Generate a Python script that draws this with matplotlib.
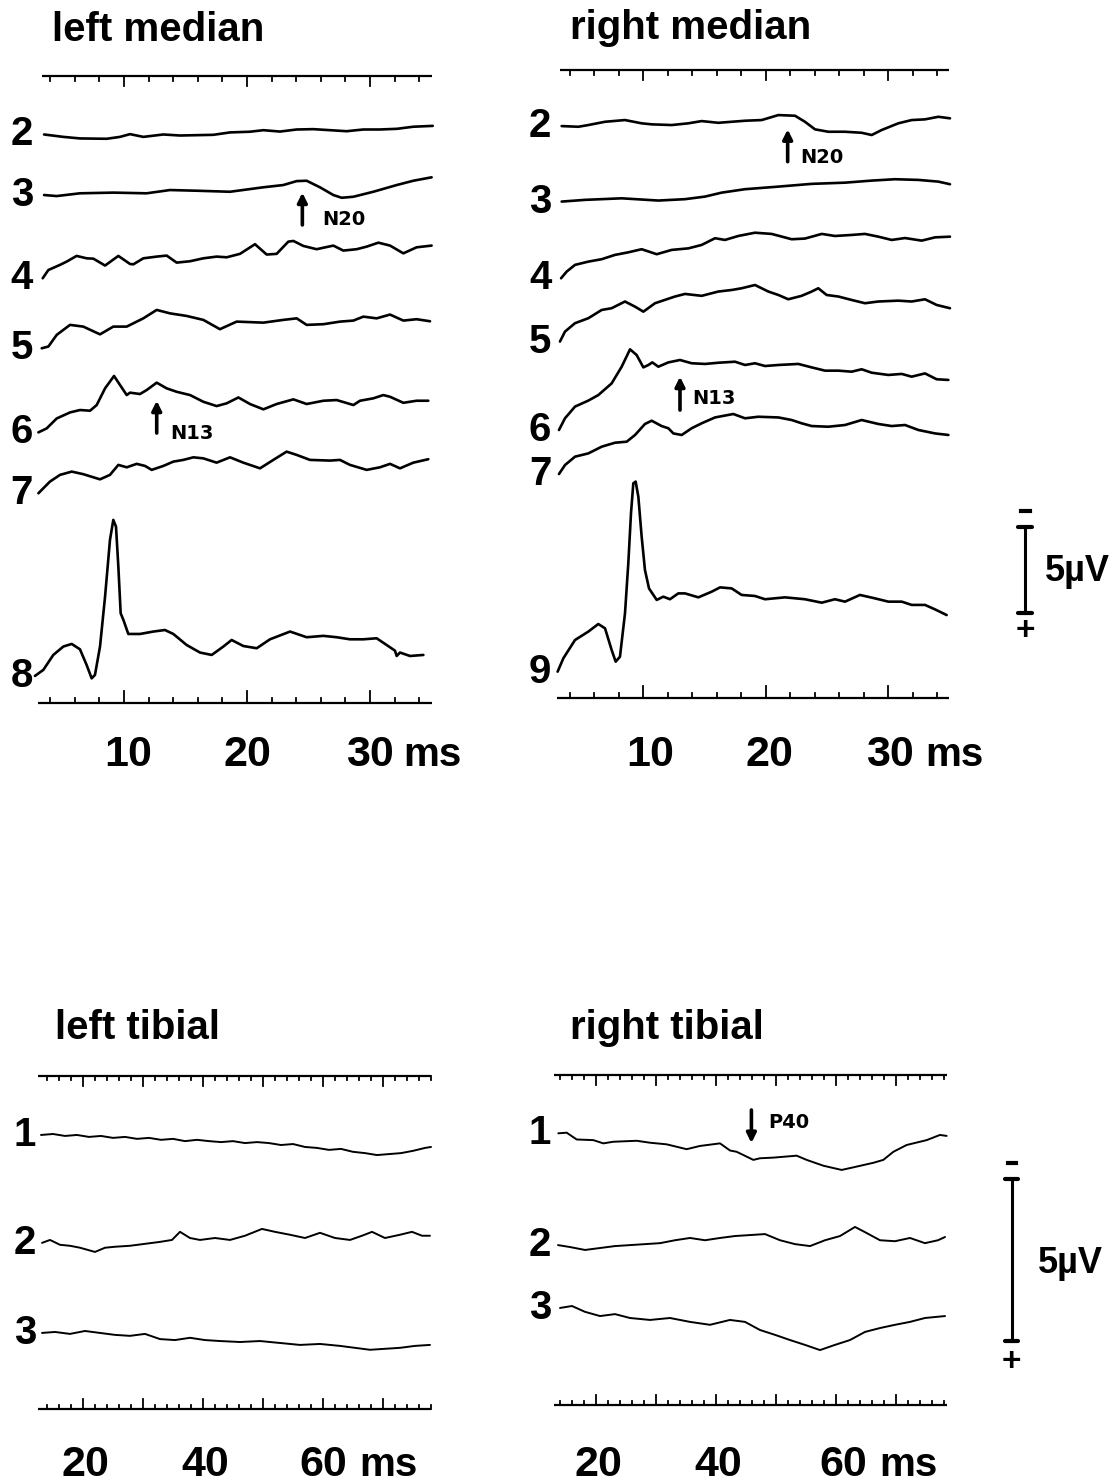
import matplotlib
matplotlib.use('Agg')
import matplotlib.pyplot as plt
import numpy as np

# ---------------- data (ms, uV; negative = up) ----------------
# left median
t_lm2 = [3.5, 5.07, 6.42, 8.59, 9.67, 10.49, 11.57, 13.2, 14.55, 17.26, 18.62, 20.24, 21.33, 22.68, 24.04, 25.39, 26.75, 28.1, 29.46, 30.8, 32.2, 33.5, 35.1]
v_lm2 = [0, 0.14, 0.23, 0.25, 0.14, -0.02, 0.14, 0, 0.06, 0.02, -0.12, -0.16, -0.25, -0.17, -0.29, -0.31, -0.25, -0.19, -0.29, -0.29, -0.33, -0.45, -0.5]
t_lm3 = [3.5, 4.53, 6.42, 9.13, 11.84, 13.74, 15.91, 18.62, 21.33, 22.95, 24.04, 24.85, 25.93, 27.02, 27.7, 28.65, 30.27, 32.17, 33.52, 35.01]
v_lm3 = [0, 0.06, -0.1, -0.14, -0.1, -0.29, -0.25, -0.19, -0.45, -0.58, -0.81, -0.83, -0.45, 0, 0.16, 0.1, -0.19, -0.58, -0.83, -1.03]
t_lm4 = [3.39, 3.85, 4.8, 5.34, 6.15, 6.96, 7.51, 8.46, 9.54, 10.49, 10.76, 11.57, 12.66, 13.47, 14.28, 15.37, 16.45, 17.53, 18.35, 19.43, 20.65, 21.6, 22.41, 23.36, 23.77, 24.58, 25.66, 27.02, 27.83, 28.92, 29.73, 30.68, 31.63, 32.71, 33.79, 35.01]
v_lm4 = [0, -0.48, -0.78, -0.97, -1.3, -1.16, -1.14, -0.74, -1.3, -0.83, -0.81, -1.16, -1.26, -1.32, -0.91, -0.99, -1.16, -1.26, -1.22, -1.42, -1.98, -1.38, -1.42, -2.13, -2.17, -1.88, -1.69, -1.9, -1.61, -1.69, -1.84, -2.07, -1.9, -1.45, -1.8, -1.9]
t_lm5 = [3.31, 3.85, 4.53, 5.61, 6.69, 8.05, 9.13, 10.22, 11.57, 12.66, 13.74, 15.09, 16.45, 17.8, 19.16, 21.33, 22.95, 24.04, 24.85, 26.21, 27.56, 28.65, 29.46, 30.54, 31.63, 32.71, 33.79, 34.88]
v_lm5 = [0, -0.1, -0.78, -1.36, -1.26, -0.81, -1.26, -1.26, -1.74, -2.23, -2.03, -1.88, -1.65, -1.11, -1.55, -1.49, -1.65, -1.74, -1.36, -1.4, -1.55, -1.61, -1.84, -1.74, -1.96, -1.61, -1.69, -1.57]
t_lm6 = [3.04, 3.71, 4.53, 5.61, 6.42, 7.24, 7.78, 8.46, 9.19, 10.22, 10.49, 11.3, 11.84, 12.66, 13.47, 14.28, 15.37, 16.45, 17.53, 18.35, 19.3, 20.24, 21.33, 22.41, 23.77, 24.85, 26.21, 27.29, 28.65, 29.19, 30.27, 31.08, 31.63, 32.71, 33.79, 34.74]
v_lm6 = [0, -0.23, -0.81, -1.16, -1.30, -1.26, -1.59, -2.56, -3.28, -2.17, -2.31, -2.23, -2.46, -2.89, -2.56, -2.36, -2.17, -1.78, -1.53, -1.69, -2.03, -1.65, -1.34, -1.65, -1.92, -1.65, -1.84, -1.88, -1.59, -1.84, -1.98, -2.17, -2.07, -1.72, -1.84, -1.84]
t_lm7 = [3.04, 3.98, 4.8, 5.75, 6.69, 8.05, 8.86, 9.54, 10.22, 11.03, 11.71, 12.25, 13.2, 14.01, 14.82, 15.64, 16.45, 17.53, 18.62, 19.7, 21.06, 22.14, 23.22, 24.04, 25.12, 26.75, 27.56, 28.37, 29.73, 30.81, 31.63, 32.44, 33.52, 34.74]
v_lm7 = [0, -0.68, -1.07, -1.26, -1.11, -0.81, -1.07, -1.65, -1.51, -1.71, -1.59, -1.36, -1.59, -1.84, -1.94, -2.09, -2.03, -1.78, -2.09, -1.78, -1.45, -1.94, -2.42, -2.23, -1.94, -1.9, -1.94, -1.65, -1.36, -1.51, -1.71, -1.45, -1.78, -1.98]
t_lm8 = [2.76, 3.44, 4.25, 5.07, 5.75, 6.42, 6.96, 7.37, 7.64, 8.05, 8.46, 8.86, 9.13, 9.35, 9.54, 9.73, 9.95, 10.35, 11.3, 12.38, 13.33, 14.01, 15.09, 16.18, 17.13, 18.08, 18.75, 19.7, 20.79, 21.87, 23.5, 24.85, 26.21, 27.29, 28.37, 29.46, 30.54, 31.35, 32.03, 32.17, 32.44, 33.25, 34.34]
v_lm8 = [0, -0.35, -1.22, -1.71, -1.86, -1.55, -0.64, 0.14, -0.06, -1.71, -4.61, -7.91, -9.07, -8.68, -6.36, -3.64, -3.26, -2.44, -2.44, -2.58, -2.67, -2.44, -1.80, -1.36, -1.22, -1.71, -2.09, -1.74, -1.61, -2.13, -2.58, -2.25, -2.33, -2.25, -2.13, -2.13, -2.19, -1.80, -1.47, -1.16, -1.36, -1.16, -1.22]

# right median
t_rm2 = [3.36, 4.72, 5.54, 6.9, 8.53, 9.89, 10.71, 12.34, 13.7, 14.79, 16.15, 17.24, 18.33, 19.69, 21.05, 22.41, 23.22, 24.04, 25.13, 26.49, 27.85, 28.67, 29.48, 30.84, 31.93, 33.02, 34.11, 35.06]
v_rm2 = [0, 0.04, -0.06, -0.25, -0.35, -0.16, -0.1, -0.06, -0.16, -0.29, -0.19, -0.25, -0.31, -0.35, -0.64, -0.6, -0.25, 0.19, 0.33, 0.33, 0.39, 0.52, 0.23, -0.16, -0.35, -0.39, -0.54, -0.45]
t_rm3 = [3.36, 5.27, 8.26, 11.25, 13.43, 15.06, 16.42, 18.33, 21.05, 23.77, 26.49, 28.67, 30.57, 32.48, 34.11, 35.06]
v_rm3 = [0, -0.1, -0.19, -0.06, -0.14, -0.29, -0.52, -0.72, -0.87, -1.03, -1.1, -1.22, -1.3, -1.26, -1.16, -1.01]
t_rm4 = [3.31, 3.77, 4.45, 5.54, 6.63, 7.71, 8.8, 9.89, 11.12, 12.34, 13.7, 14.79, 15.88, 16.69, 17.78, 19.14, 20.5, 22.14, 23.22, 24.59, 25.67, 27.03, 28.12, 29.21, 30.3, 31.39, 32.75, 33.84, 35.06]
v_rm4 = [0, -0.39, -0.78, -0.97, -1.11, -1.36, -1.51, -1.69, -1.4, -1.65, -1.74, -1.94, -2.33, -2.23, -2.46, -2.65, -2.58, -2.27, -2.31, -2.58, -2.46, -2.52, -2.58, -2.42, -2.23, -2.34, -2.19, -2.38, -2.42]
t_rm5 = [3.22, 3.63, 4.45, 5.54, 6.63, 7.44, 8.53, 9.35, 10.03, 10.98, 12.61, 13.43, 14.79, 16.15, 17.24, 18.05, 19.14, 20.23, 21.05, 21.86, 22.95, 23.77, 24.31, 24.99, 25.95, 27.03, 28.12, 29.21, 30.84, 31.93, 33.02, 33.97, 35.06]
v_rm5 = [0, -0.58, -1.07, -1.36, -1.84, -1.94, -2.33, -2.03, -1.74, -2.23, -2.62, -2.77, -2.66, -2.91, -3.0, -3.1, -3.29, -2.91, -2.71, -2.46, -2.66, -2.91, -3.1, -2.71, -2.62, -2.42, -2.23, -2.33, -2.38, -2.33, -2.46, -2.13, -1.94]
t_rm6 = [3.14, 3.63, 4.45, 5.54, 6.35, 7.44, 8.26, 8.94, 9.48, 10.03, 10.44, 10.76, 11.25, 12.07, 13.02, 13.97, 15.06, 16.15, 17.51, 18.33, 19.14, 19.96, 21.05, 22.68, 23.77, 24.86, 25.95, 27.03, 27.85, 28.67, 30.03, 31.12, 31.93, 33.02, 33.97, 34.93]
v_rm6 = [0, -0.68, -1.36, -1.71, -2.03, -2.71, -3.68, -4.69, -4.36, -3.64, -3.78, -3.93, -3.68, -3.93, -4.07, -3.88, -3.84, -3.91, -3.97, -3.78, -3.88, -3.72, -3.78, -3.84, -3.64, -3.45, -3.45, -3.39, -3.53, -3.33, -3.2, -3.26, -3.1, -3.29, -2.95, -2.91]
t_rm7 = [3.14, 3.63, 4.45, 5.54, 6.63, 7.71, 8.67, 9.35, 10.16, 10.71, 11.52, 12.07, 12.48, 13.16, 13.97, 14.79, 15.88, 17.37, 18.33, 19.41, 21.05, 22.14, 22.95, 23.77, 25.13, 26.49, 27.85, 29.21, 30.3, 31.39, 32.48, 33.84, 34.93]
v_rm7 = [0, -0.52, -1.01, -1.2, -1.59, -1.82, -1.88, -2.27, -2.91, -3.1, -2.79, -2.66, -2.36, -2.27, -2.66, -2.95, -3.29, -3.49, -3.24, -3.33, -3.29, -3.14, -2.95, -2.79, -2.75, -2.85, -3.14, -2.91, -2.79, -2.85, -2.56, -2.36, -2.27]
t_rm9 = [3.03, 3.5, 4.45, 5.54, 6.35, 6.9, 7.44, 7.77, 8.12, 8.53, 8.8, 9.02, 9.21, 9.4, 9.62, 9.89, 10.16, 10.49, 11.12, 11.66, 12.2, 12.88, 13.43, 14.52, 15.61, 16.29, 17.24, 18.05, 19.14, 19.96, 21.59, 23.22, 24.59, 25.67, 26.49, 27.71, 28.94, 30.03, 31.12, 31.93, 33.02, 33.84, 34.79]
v_rm9 = [0, -0.78, -1.84, -2.33, -2.77, -2.52, -1.26, -0.58, -0.87, -3.39, -6.3, -9.21, -10.95, -11.05, -10.17, -7.85, -5.91, -4.84, -4.17, -4.36, -4.21, -4.55, -4.55, -4.32, -4.65, -4.9, -4.84, -4.46, -4.4, -4.21, -4.32, -4.21, -4.01, -4.21, -4.07, -4.46, -4.26, -4.07, -4.07, -3.88, -3.88, -3.62, -3.29]

# left tibial
t_lt1 = [13, 15, 17, 19, 21, 23, 25, 27, 29, 31, 33, 35, 37, 39, 41, 43, 45, 47, 49, 51, 53, 55, 57, 59, 61, 63, 65, 67, 69, 71, 73, 75, 77, 78]
v_lt1 = [0, -0.03, 0.03, 0.0, 0.06, 0.03, 0.09, 0.06, 0.12, 0.09, 0.15, 0.12, 0.19, 0.15, 0.19, 0.22, 0.19, 0.25, 0.22, 0.25, 0.31, 0.28, 0.37, 0.40, 0.46, 0.43, 0.52, 0.56, 0.62, 0.59, 0.56, 0.49, 0.40, 0.37]
t_lt2 = [13.17, 14.5, 16.17, 17.83, 19.5, 22.0, 23.67, 25.33, 27.83, 30.33, 32.83, 34.83, 36.17, 37.83, 39.5, 42.0, 44.5, 47.0, 49.83, 52.0, 54.5, 57.0, 59.5, 62.0, 64.5, 66.5, 68.17, 70.33, 72.83, 74.83, 76.5, 77.83]
v_lt2 = [0, -0.09, 0.06, 0.09, 0.15, 0.28, 0.15, 0.12, 0.09, 0.03, -0.03, -0.09, -0.34, -0.15, -0.09, -0.15, -0.09, -0.22, -0.43, -0.34, -0.25, -0.15, -0.31, -0.15, -0.09, -0.22, -0.34, -0.15, -0.25, -0.34, -0.22, -0.22]
t_lt3 = [13.17, 15.33, 17.83, 20.33, 22.83, 25.33, 27.83, 30.33, 32.83, 35.33, 37.83, 40.33, 42.83, 46.17, 49.5, 52.83, 56.17, 59.5, 62.83, 65.33, 67.83, 70.33, 72.83, 75.33, 77.83]
v_lt3 = [0, -0.03, 0.03, -0.06, 0, 0.06, 0.09, 0.03, 0.19, 0.22, 0.15, 0.22, 0.25, 0.28, 0.25, 0.31, 0.37, 0.34, 0.40, 0.46, 0.52, 0.49, 0.46, 0.40, 0.37]

# right tibial
t_rt1 = [13.72, 15.11, 16.78, 19.56, 21.22, 22.89, 26.78, 29.0, 31.78, 35.11, 37.33, 40.67, 42.33, 43.44, 44.56, 46.22, 47.33, 49.56, 53.44, 55.11, 57.89, 60.94, 62.89, 66.22, 67.89, 69.56, 71.78, 75.11, 77.33, 78.44]
v_rt1 = [0, -0.02, 0.19, 0.21, 0.31, 0.26, 0.23, 0.29, 0.34, 0.49, 0.39, 0.31, 0.53, 0.57, 0.67, 0.82, 0.77, 0.75, 0.69, 0.82, 1.0, 1.13, 1.05, 0.91, 0.82, 0.57, 0.36, 0.21, 0.05, 0.08]
t_rt2 = [13.67, 15.67, 18.17, 20.67, 23.17, 25.67, 28.17, 30.67, 33.17, 35.67, 38.17, 40.67, 43.17, 45.67, 48.17, 50.67, 53.17, 55.67, 58.17, 60.67, 63.17, 64.83, 67.33, 69.83, 72.33, 74.83, 77.0, 78.17]
v_rt2 = [0, 0.06, 0.15, 0.09, 0.03, 0, -0.03, -0.06, -0.15, -0.22, -0.15, -0.22, -0.28, -0.31, -0.34, -0.15, -0.03, 0.03, -0.15, -0.28, -0.56, -0.40, -0.15, -0.12, -0.22, -0.06, -0.15, -0.25]
t_rt3 = [14.0, 16.0, 18.17, 20.67, 23.17, 25.67, 29.0, 32.33, 35.67, 39.0, 42.33, 44.83, 47.33, 49.83, 52.33, 54.83, 57.33, 59.83, 62.33, 64.83, 67.33, 69.83, 72.33, 74.83, 78.17]
v_rt3 = [0, -0.06, 0.12, 0.25, 0.19, 0.31, 0.37, 0.31, 0.43, 0.52, 0.37, 0.43, 0.68, 0.83, 0.99, 1.14, 1.30, 1.14, 0.99, 0.74, 0.62, 0.52, 0.43, 0.31, 0.25]

lm_labels = ['2', '3', '4', '5', '6', '7', '8']
rm_labels = ['2', '3', '4', '5', '6', '7', '9']
tib_labels = ['1', '2', '3']

# ---------------- layout ----------------
W, H = 1114, 1484
fig = plt.figure(figsize=(W / 100, H / 100), dpi=100)
FONT = ['Liberation Sans', 'DejaVu Sans']
BOLDW = ['DejaVu Sans']


def panel(box, t_ref, px_ref, px_ms, y_ref, px_uv):
    x0, y0, x1, y1 = box
    ax = fig.add_axes([x0 / W, 1 - y1 / H, (x1 - x0) / W, (y1 - y0) / H])
    ax.set_xlim(t_ref + (x0 - px_ref) / px_ms, t_ref + (x1 - px_ref) / px_ms)
    ax.set_ylim((y1 - y_ref) / px_uv, (y0 - y_ref) / px_uv)
    ax.axis('off')
    return ax


def ruler(ax, y, t0, t1, step, major, ln, lmaj, down):
    sgn = 1 if down else -1
    ax.plot([t0, t1], [y, y], color='black', lw=1.6, solid_capstyle='butt')
    for t in np.arange(np.ceil(t0 / step) * step, t1 + 0.01, step):
        L = lmaj if abs(t / major - round(t / major)) < 1e-6 else ln
        ax.plot([t, t], [y, y + sgn * L], color='black', lw=1.3)


def traces(ax, tl, vl, offs, labels, lab_t, lw):
    for t, v, o, lab in zip(tl, vl, offs, labels):
        ax.plot(t, np.array(v) + o, color='black', lw=lw,
                solid_joinstyle='round', solid_capstyle='round')
        ax.text(lab_t, o, lab, fontsize=29, fontweight='bold', family=FONT,
                ha='center', va='center')


def arrow(ax, t, ya, yb, label, lt, ly):
    ax.annotate('', xy=(t, yb), xytext=(t, ya),
                arrowprops=dict(arrowstyle='-|>', lw=2.6, color='black',
                                mutation_scale=14, shrinkA=0, shrinkB=0))
    ax.text(lt, ly, label, fontsize=14, fontweight='bold', family=BOLDW,
            ha='left', va='center')


def xlabels(ax, y, items, unit_t):
    for t, s in items:
        ax.text(t, y, s, fontsize=31, fontweight='bold', family=FONT, ha='center', va='center')
    ax.text(unit_t, y, 'ms', fontsize=29, fontweight='bold', family=FONT,
            ha='left', va='center')


def scalebar(ax, t, y, cap, minus_dy, plus_dy, lab_dt):
    ax.plot([t, t], [y, y + 5], color='black', lw=2.2)
    for yy in (y, y + 5):
        ax.plot([t - cap, t + cap], [yy, yy], color='black', lw=3, solid_capstyle='round')
    ax.plot([t - 0.65 * cap, t + 0.65 * cap], [y - minus_dy, y - minus_dy], color='black', lw=3)
    ax.text(t, y + 5 + plus_dy, '+', fontsize=24, fontweight='bold', family=FONT,
            ha='center', va='center')
    ax.text(t + lab_dt, y + 2.6, '5µV', fontsize=26, fontweight='bold', family=FONT,
            ha='left', va='center')


# left median
ax = panel((0, 40, 500, 800), 10, 124, 12.3, 76, 17.2)
ruler(ax, 0, 3.3, 35.0, 2, 10, 0.3, 0.6, True)
ruler(ax, 36.45, 3.0, 35.0, 2, 10, 0.3, 0.7, False)
traces(ax, [t_lm2, t_lm3, t_lm4, t_lm5, t_lm6, t_lm7, t_lm8],
       [v_lm2, v_lm3, v_lm4, v_lm5, v_lm6, v_lm7, v_lm8],
       [3.4, 6.92, 11.76, 15.83, 20.72, 24.26, 34.88], lm_labels, 1.7, 1.9)
arrow(ax, 24.5, 8.66, 6.78, 'N20', 26.1, 8.37)
arrow(ax, 12.66, 20.76, 18.88, 'N13', 13.8, 20.76)
xlabels(ax, 39.45, [(10.3, '10'), (20.0, '20'), (30.0, '30')], 32.7)

# right median
ax = panel((500, 40, 1114, 800), 10, 643, 12.25, 70, 17.2)
ruler(ax, 0, 3.2, 35.0, 2, 10, 0.3, 0.6, True)
ruler(ax, 36.5, 3.0, 35.0, 2, 10, 0.3, 0.7, False)
traces(ax, [t_rm2, t_rm3, t_rm4, t_rm5, t_rm6, t_rm7, t_rm9],
       [v_rm2, v_rm3, v_rm4, v_rm5, v_rm6, v_rm7, v_rm9],
       [3.26, 7.65, 12.11, 15.79, 20.93, 23.49, 34.98], rm_labels, 1.6, 1.9)
arrow(ax, 21.81, 5.33, 3.45, 'N20', 22.8, 5.06)
arrow(ax, 13.02, 19.77, 17.83, 'N13', 14.0, 19.07)
xlabels(ax, 39.8, [(10.57, '10'), (20.36, '20'), (30.16, '30')], 33.0)
scalebar(ax, 41.2, 26.57, 0.55, 0.93, 1.1, 1.6)

# left tibial
ax = panel((0, 1050, 500, 1484), 20, 83, 6.0, 1076, 32.4)
ruler(ax, 0, 12.5, 78.0, 2, 10, 0.13, 0.3, True)
ruler(ax, 10.28, 12.5, 78.0, 2, 10, 0.13, 0.3, False)
traces(ax, [t_lt1, t_lt2, t_lt3], [v_lt1, v_lt2, v_lt3],
       [1.82, 5.15, 7.93], tib_labels, 10.3, 1.4)
xlabels(ax, 12.0, [(20.33, '20'), (40.33, '40'), (60.0, '60')], 66.0)

# right tibial
ax = panel((500, 1050, 1114, 1484), 20, 596, 6.0, 1075, 32.4)
ruler(ax, 0, 13.0, 78.5, 2, 10, 0.13, 0.3, True)
ruler(ax, 10.19, 13.0, 78.5, 2, 10, 0.13, 0.3, False)
traces(ax, [t_rt1, t_rt2, t_rt3], [v_rt1, v_rt2, v_rt3],
       [1.8, 5.25, 7.19], tib_labels, 10.67, 1.4)
arrow(ax, 45.9, 1.08, 2.1, 'P40', 48.67, 1.48)
xlabels(ax, 12.04, [(20.33, '20'), (40.33, '40'), (61.17, '60')], 67.2)
scalebar(ax, 89.3, 3.21, 1.1, 0.49, 0.65, 4.4)

# panel titles
for x, y, s in [(52, 30, 'left median'), (570, 28, 'right median'),
                (55, 1028, 'left tibial'), (570, 1028, 'right tibial')]:
    fig.text(x / W, 1 - y / H, s, fontsize=29, fontweight='bold', family=FONT,
             ha='left', va='center')

fig.savefig('out.png', dpi=100, facecolor='white')
